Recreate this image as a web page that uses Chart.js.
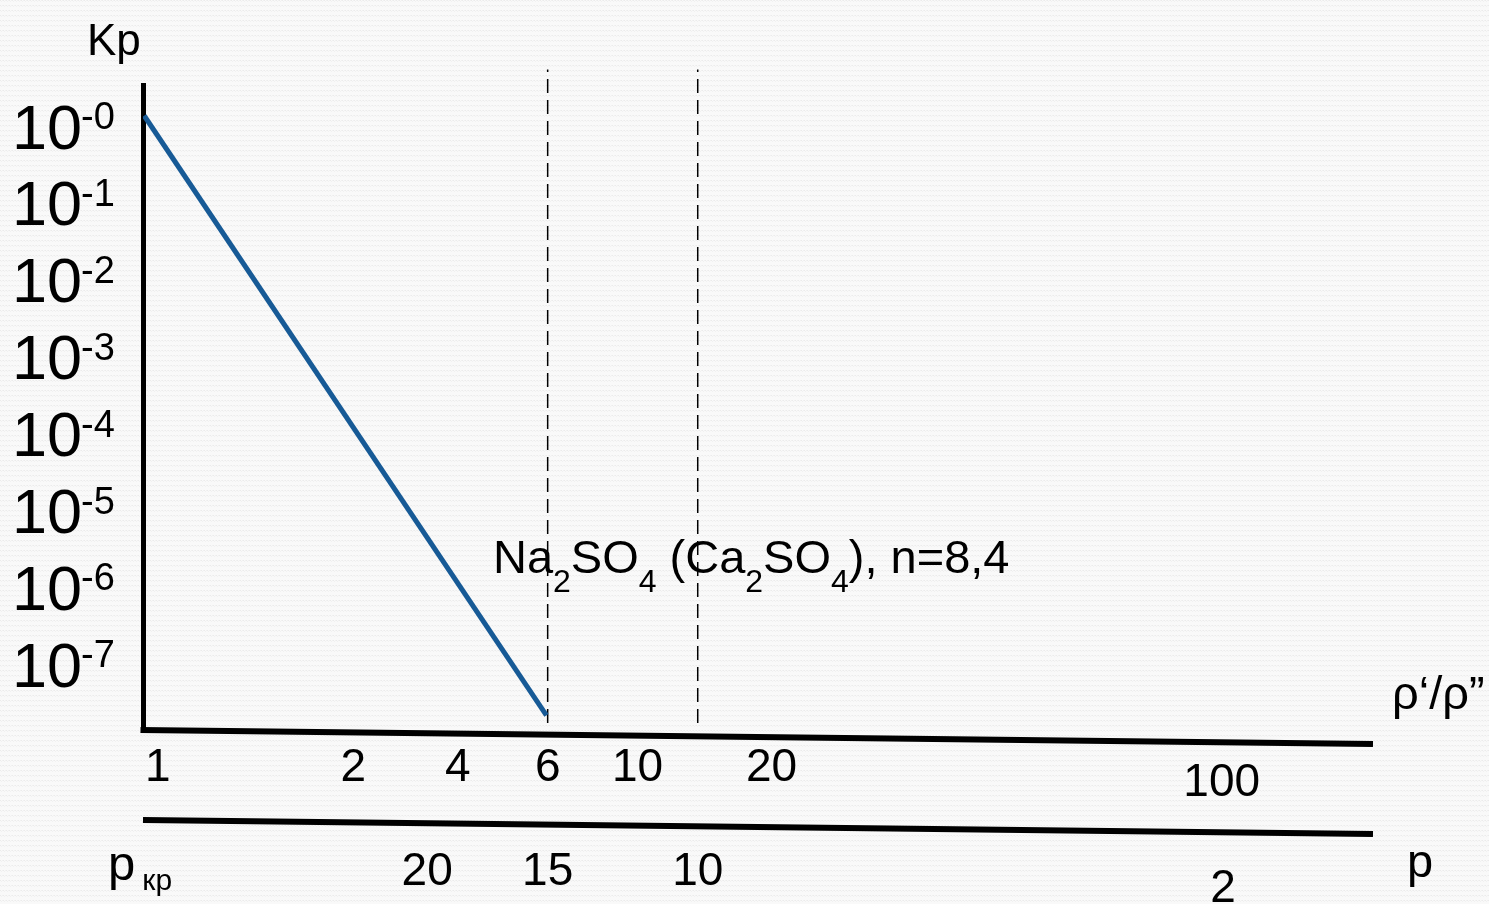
<!DOCTYPE html>
<html>
<head>
<meta charset="utf-8">
<script src="https://cdn.jsdelivr.net/npm/chart.js@4.4.1/dist/chart.umd.min.js"></script>
<style>
  html, body { margin: 0; padding: 0; background: #f7f7f7; }
  #wrap { width: 1489px; height: 904px; }
</style>
</head>
<body>
<div id="wrap"><canvas id="c" width="1489" height="904"></canvas></div>
<script>
// ---- data ----
// x axis is a schematic axis: values are positions along it (0 = y axis, 100 = right end)
const ratioTickLabels = ['1', '2', '4', '6', '10', '20', '100'];
const ratioTickAt     = [1.2, 17.1, 25.6, 32.9, 40.2, 51.1, 87.7];
const pTickLabels     = ['20', '15', '10', '2'];
const pTickAt         = [23.1, 32.9, 45.1, 87.8];
const kpExponents     = [0, -1, -2, -3, -4, -5, -6, -7];   // Kp = 10^e
const curveX          = [0.1, 32.8];
const curveLogKp      = [0.2, -7.6];
const limitX          = [32.9, 45.1];                      // ρ'/ρ''=6 (p=15) and p=10
const limitLogKp      = [-7.7, 0.8];
const noteText        = [['Na',0],['2',1],['SO',0],['4',1],[' (Ca',0],['2',1],['SO',0],['4',1],['), n=8,4',0]];
const noteAt          = { x: 28.45, y: -5.75 };

const FONT = "'Liberation Sans', Arial, sans-serif";
const BLUE = '#175a96';

const curveData = curveX.map((x, i) => ({ x, y: curveLogKp[i] }));
const limitDatasets = limitX.map(x => ({
  data: limitLogKp.map(y => ({ x, y })),
  borderColor: '#000', borderWidth: 1.5, borderDash: [14, 7],
  pointRadius: 0, clip: false, xAxisID: 'x', yAxisID: 'y'
}));

// subtle woven paper texture of the slide background
function makeTexture() {
  const t = document.createElement('canvas');
  t.width = 6; t.height = 5;
  const g = t.getContext('2d');
  g.fillStyle = '#f9f9f9'; g.fillRect(0, 0, 6, 5);
  g.fillStyle = '#ebebeb';
  g.fillRect(0, 0, 1, 1); g.fillRect(3, 0, 1, 1);
  g.fillStyle = '#f1f1f1';
  g.fillRect(1, 1, 1, 1); g.fillRect(4, 1, 1, 1);
  g.fillRect(2, 0, 1, 1); g.fillRect(5, 0, 1, 1);
  return t;
}

const decor = {
  id: 'decor',
  beforeDraw(chart) {
    const c = chart.ctx;
    c.save();
    c.fillStyle = c.createPattern(makeTexture(), 'repeat');
    c.fillRect(0, 0, chart.width, chart.height);
    c.restore();
  },
  afterDraw(chart) {
    const c = chart.ctx;
    const ca = chart.chartArea;
    const xs = chart.scales.x, x2 = chart.scales.x2, ys = chart.scales.y;
    const slope = 14;
    c.save();
    c.strokeStyle = '#000';
    c.lineWidth = 6;
    c.lineCap = 'butt';
    // slanted ρ'/ρ'' axis
    c.beginPath();
    c.moveTo(ca.left - 2.5, ca.bottom);
    c.lineTo(ca.right, ca.bottom + slope);
    c.stroke();
    // slanted p axis
    c.beginPath();
    c.moveTo(ca.left, xs.bottom);
    c.lineTo(ca.right, xs.bottom + slope);
    c.stroke();

    c.fillStyle = '#000';
    // y tick superscripts
    c.font = '38px ' + FONT;
    c.textAlign = 'left';
    c.textBaseline = 'alphabetic';
    const yTickRight = ca.left - ys.options.ticks.padding;
    kpExponents.forEach(e => {
      c.fillText('-' + Math.abs(e), yTickRight - 1, ys.getPixelForValue(e) - 2);
    });

    // axis titles
    c.font = '44px ' + FONT;
    c.fillText('Kp', 87, 55);
    c.font = '47px ' + FONT;
    c.fillText('ρ‘/ρ”', ca.right + 19, 709);
    c.fillText('p', ca.right + 34, 877);

    // p_кр label at x2 position 0
    const cx = x2.getPixelForValue(0);
    const lx = cx - 35;
    c.font = '49px ' + FONT;
    c.fillText('p', lx, 880);
    const wp = c.measureText('p').width;
    c.font = '30px ' + FONT;
    c.fillText('кр', lx + wp + 7, 890);

    // annotation
    let ax = xs.getPixelForValue(noteAt.x);
    const ay = ys.getPixelForValue(noteAt.y);
    noteText.forEach(([t, sub]) => {
      c.font = (sub ? '32px ' : '47px ') + FONT;
      c.fillText(t, ax, sub ? ay + 19 : ay);
      ax += c.measureText(t).width;
    });
    c.restore();
  }
};

// single-line tick labels are centred at lineHeight/2 below the padding,
// so a taller line height on the last (detached) tick drops it a little lower
const xTicks = (at, labels, pad, lowered) => ({
  color: '#000',
  padding: pad,
  autoSkip: false,
  maxRotation: 0,
  minRotation: 0,
  font: ctx => ({ family: FONT, size: 46, lineHeight: (ctx.index === at.length - 1 ? lowered : '46px') }),
  callback: (v, i) => labels[i]
});

const noPad = s => { s.paddingTop = 0; s.paddingBottom = 0; s.paddingLeft = 0; s.paddingRight = 0; };

new Chart(document.getElementById('c'), {
  type: 'line',
  data: {
    datasets: [
      { data: curveData, borderColor: BLUE, borderWidth: 5, pointRadius: 0, tension: 0, xAxisID: 'x', yAxisID: 'y' },
      ...limitDatasets
    ]
  },
  options: {
    responsive: false,
    animation: false,
    devicePixelRatio: 1,
    layout: { padding: { left: 0, top: 85, right: 116, bottom: 0 } },
    plugins: { legend: { display: false }, tooltip: { enabled: false } },
    scales: {
      y: {
        type: 'linear', position: 'left', min: -7.79, max: 0.6,
        grid: { display: false, drawTicks: false },
        border: { display: true, color: '#000', width: 5 },
        ticks: { color: '#000', padding: 61, font: { family: FONT, size: 63 }, callback: () => '10' },
        afterBuildTicks: s => { s.ticks = kpExponents.map(v => ({ value: v })); },
        afterFit: s => { s.width = 143; noPad(s); }
      },
      x: {
        type: 'linear', position: 'bottom', weight: 0, min: 0, max: 100,
        grid: { display: false, drawTicks: false },
        border: { display: false },
        ticks: xTicks(ratioTickAt, ratioTickLabels, 15, '76px'),
        afterBuildTicks: s => { s.ticks = ratioTickAt.map(v => ({ value: v })); },
        afterFit: s => { s.height = 90; noPad(s); }
      },
      x2: {
        type: 'linear', position: 'bottom', weight: 1, min: 0, max: 100,
        grid: { display: false, drawTicks: false },
        border: { display: false },
        ticks: xTicks(pTickAt, pTickLabels, 29, '80px'),
        afterBuildTicks: s => { s.ticks = pTickAt.map(v => ({ value: v })); },
        afterFit: s => { s.height = 84; noPad(s); }
      }
    }
  },
  plugins: [decor]
});
</script>
</body>
</html>
